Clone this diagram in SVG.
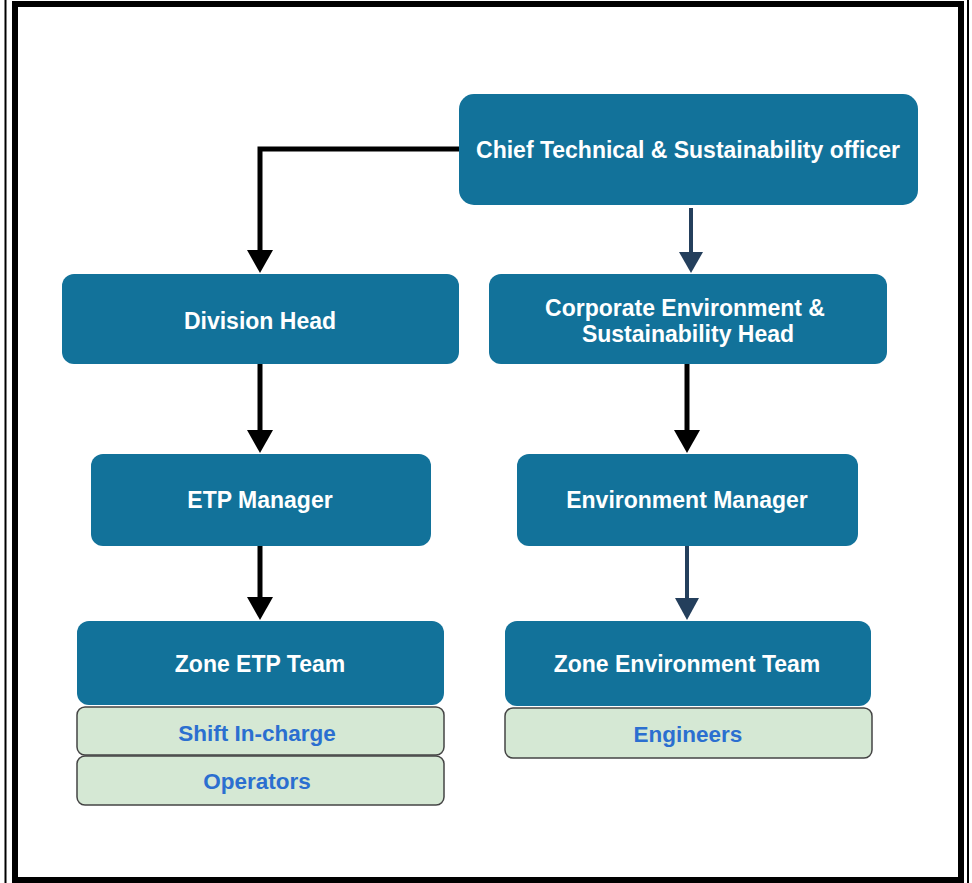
<svg xmlns="http://www.w3.org/2000/svg" width="972" height="883" viewBox="0 0 972 883">
<defs>
<style>
.node{fill:#12729a;}
.sub{fill:#d5e8d4;stroke:#444;stroke-width:1.5;}
.t{font-family:"Liberation Sans",Arial,sans-serif;font-weight:bold;font-size:23px;fill:#fff;text-anchor:middle;}
.s{font-family:"Liberation Sans",Arial,sans-serif;font-weight:bold;font-size:22.5px;fill:#2b6fd0;text-anchor:middle;}
.blk{fill:none;stroke:#000;stroke-width:5;}
.nav{fill:none;stroke:#243f5c;stroke-width:4;}
</style>
</defs>
<rect x="0" y="0" width="972" height="883" fill="#fff"/>
<g id="frame">
<line x1="5.5" y1="0" x2="5.5" y2="883" stroke="#000" stroke-width="2"/>
<line x1="968" y1="0" x2="968" y2="883" stroke="#000" stroke-width="2"/>
<rect x="15" y="4" width="946" height="876" fill="none" stroke="#000" stroke-width="6"/>
</g>
<g id="connectors">
<path class="blk" d="M459,149 L260,149 L260,252"/>
<polygon points="247,250 273,250 260,273" fill="#000"/>
<path class="nav" d="M691,208 L691,254"/>
<polygon points="679,252 703,252 691,273" fill="#243f5c"/>
<path class="blk" d="M260,364 L260,432"/>
<polygon points="247,430 273,430 260,453" fill="#000"/>
<path class="blk" d="M687,364 L687,432"/>
<polygon points="674,430 700,430 687,453" fill="#000"/>
<path class="blk" d="M260,546 L260,599"/>
<polygon points="247,597 273,597 260,620" fill="#000"/>
<path class="nav" d="M687,546 L687,600"/>
<polygon points="675,598 699,598 687,620" fill="#243f5c"/>
</g>
<g id="chief"><rect class="node" x="459" y="94" width="459" height="111" rx="15"/><text class="t" x="688" y="158">Chief Technical &amp; Sustainability officer</text></g>
<g id="division"><rect class="node" x="62" y="274" width="397" height="90" rx="12"/><text class="t" x="260" y="329">Division Head</text></g>
<g id="corporate"><rect class="node" x="489" y="274" width="398" height="90" rx="12"/><text class="t" x="685" y="316">Corporate Environment &amp;</text><text class="t" x="688" y="342">Sustainability Head</text></g>
<g id="etp"><rect class="node" x="91" y="454" width="340" height="92" rx="12"/><text class="t" x="260" y="508">ETP Manager</text></g>
<g id="envmgr"><rect class="node" x="517" y="454" width="341" height="92" rx="12"/><text class="t" x="687" y="508">Environment Manager</text></g>
<g id="zoneetp"><rect class="node" x="77" y="621" width="367" height="84" rx="12"/><text class="t" x="260" y="672">Zone ETP Team</text></g>
<g id="shift"><rect class="sub" x="77" y="707" width="367" height="48" rx="8"/><text class="s" x="257" y="741">Shift In-charge</text></g>
<g id="operators"><rect class="sub" x="77" y="756" width="367" height="49" rx="8"/><text class="s" x="257" y="789">Operators</text></g>
<g id="zoneenv"><rect class="node" x="505" y="621" width="366" height="85" rx="12"/><text class="t" x="687" y="672">Zone Environment Team</text></g>
<g id="engineers"><rect class="sub" x="505" y="708" width="367" height="50" rx="8"/><text class="s" x="688" y="742">Engineers</text></g>
</svg>
